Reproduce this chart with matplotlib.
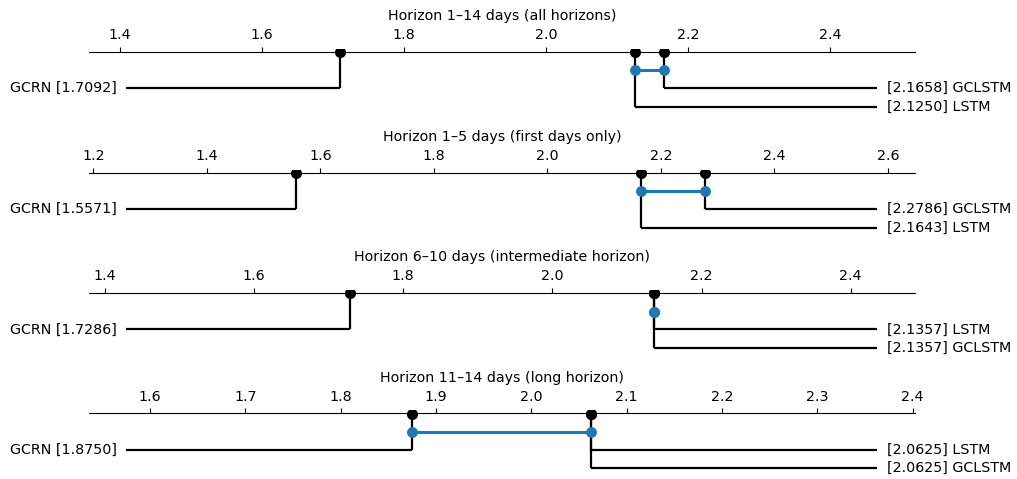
import matplotlib
matplotlib.use("Agg")
import matplotlib.pyplot as plt
from matplotlib.transforms import blended_transform_factory
from matplotlib.ticker import FormatStrFormatter

# ---------------- data ----------------
titles = [
    "Horizon 1\u201314 days (all horizons)",
    "Horizon 1\u20135 days (first days only)",
    "Horizon 6\u201310 days (intermediate horizon)",
    "Horizon 11\u201314 days (long horizon)",
]
left_methods = [["GCRN"], ["GCRN"], ["GCRN"], ["GCRN"]]
left_ranks = [[1.7092], [1.5571], [1.7286], [1.8750]]
right_methods = [["GCLSTM", "LSTM"], ["GCLSTM", "LSTM"], ["LSTM", "GCLSTM"], ["LSTM", "GCLSTM"]]
right_ranks = [[2.1658, 2.1250], [2.2786, 2.1643], [2.1357, 2.1357], [2.0625, 2.0625]]
cliques = [(2.1250, 2.1658), (2.1643, 2.2786), (2.1357, 2.1357), (1.8750, 2.0625)]
xlims = [(1.3563, 2.5197), (1.1924, 2.6479), (1.3785, 2.4862), (1.5360, 2.4024)]
ticks = [
    [1.4, 1.6, 1.8, 2.0, 2.2, 2.4],
    [1.2, 1.4, 1.6, 1.8, 2.0, 2.2, 2.4, 2.6],
    [1.4, 1.6, 1.8, 2.0, 2.2, 2.4],
    [1.6, 1.7, 1.8, 1.9, 2.0, 2.1, 2.2, 2.3, 2.4],
]

# ---------------- layout ----------------
W, H = 1017, 479
fig = plt.figure(figsize=(W / 100, H / 100), dpi=100)
axis_ys = [51.6, 172.5, 292.8, 413.3]
ax_left, ax_width = 89, 826
top_off = 3
height_px = 66
row_y = [36.6, 55.0]
clique_y = 18.8
left_start = 0.0448
right_end = 0.954
left_lab = 0.0335
right_lab = 0.9657
blue = "#1f77b4"
fs = 10.3

for i in range(4):
    top = axis_ys[i] - top_off
    ax = fig.add_axes([ax_left / W, 1 - (top + height_px) / H, ax_width / W, height_px / H])
    ax.set_ylim(height_px - top_off, -top_off)
    x0, x1 = xlims[i]
    ax.set_xlim(x0, x1)
    span = x1 - x0
    for s in ["left", "right", "bottom"]:
        ax.spines[s].set_visible(False)
    ax.spines["top"].set_position(("data", 0))
    ax.spines["top"].set_linewidth(0.8)
    ax.xaxis.set_ticks_position("top")
    ax.xaxis.set_label_position("top")
    ax.set_xticks(ticks[i])
    ax.xaxis.set_major_formatter(FormatStrFormatter("%.1f"))
    ax.tick_params(axis="x", direction="out", labelsize=fs, length=3.5, width=0.8)
    ax.set_yticks([])
    ax.patch.set_visible(False)
    ax.set_title(titles[i], fontsize=fs, pad=5.5)

    tr = blended_transform_factory(ax.transAxes, ax.transData)

    # left side
    for j, (m, r) in enumerate(zip(left_methods[i], left_ranks[i])):
        y = row_y[j]
        ax.plot([r, r], [0, y], color="black", lw=1.6, zorder=2, solid_capstyle="butt")
        ax.plot([x0 + left_start * span, r], [y, y], color="black", lw=1.6, zorder=2,
                solid_capstyle="butt")
        ax.plot([r], [0.6], marker="o", color="black", markersize=7, zorder=4, clip_on=True)
        ax.text(left_lab, y, f"{m} [{r:.4f}]", transform=tr, ha="right", va="center", fontsize=fs)

    # right side
    for j, (m, r) in enumerate(zip(right_methods[i], right_ranks[i])):
        y = row_y[j]
        ax.plot([r, r], [0, y], color="black", lw=1.6, zorder=2, solid_capstyle="butt")
        ax.plot([r, x0 + right_end * span], [y, y], color="black", lw=1.6, zorder=2,
                solid_capstyle="butt")
        ax.plot([r], [0.6], marker="o", color="black", markersize=7, zorder=4, clip_on=True)
        ax.text(right_lab, y, f"[{r:.4f}] {m}", transform=tr, ha="left", va="center", fontsize=fs)

    # clique bar
    c0, c1 = cliques[i]
    ax.plot([c0, c1], [clique_y, clique_y], color=blue, lw=2.2, marker="o", markersize=6.8,
            zorder=5, solid_capstyle="butt")

fig.savefig("out.png", dpi=100)
